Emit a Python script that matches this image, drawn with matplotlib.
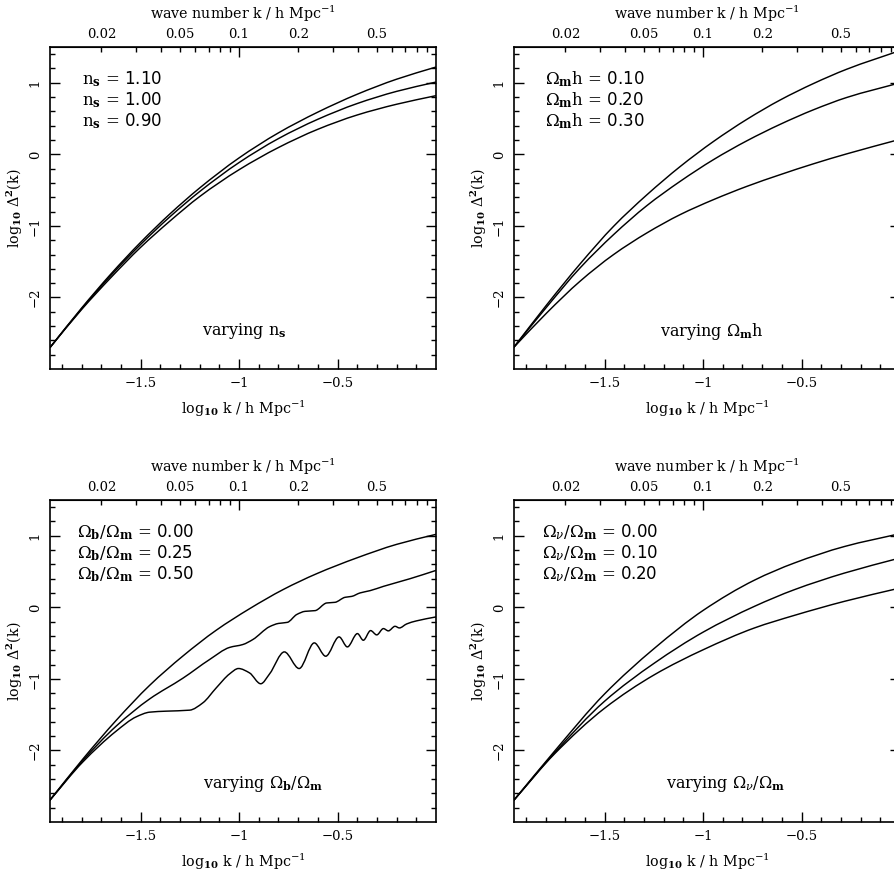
import numpy as np
import matplotlib
matplotlib.use("Agg")
import matplotlib.pyplot as plt
from matplotlib.path import Path
from matplotlib.patches import PathPatch

plt.rcParams['font.family'] = ['DejaVu Serif']
plt.rcParams['mathtext.fontset'] = 'dejavuserif'

# ---- values (x = log10 k, y = log10 Delta^2) ----

# varying n_s
ns_k = [-1.96, -1.80, -1.65, -1.50, -1.35, -1.20, -1.00, -0.80, -0.60, -0.40, -0.20, 0.00]
ns_labels = ['1.10', '1.00', '0.90']
ns_110 = [-2.70, -2.15, -1.67, -1.23, -0.83, -0.47, -0.05, 0.30, 0.59, 0.84, 1.05, 1.22]
ns_100 = [-2.70, -2.16, -1.69, -1.26, -0.87, -0.52, -0.115, 0.22, 0.49, 0.71, 0.88, 1.01]
ns_090 = [-2.70, -2.17, -1.72, -1.30, -0.93, -0.59, -0.215, 0.095, 0.35, 0.55, 0.70, 0.82]

# varying Omega_m h
omh_k = [-1.962, -1.793, -1.624, -1.454, -1.285, -1.116, -0.947, -0.777, -0.608, -0.439, -0.270, 0.00]
omh_labels = ['0.10', '0.20', '0.30']
omh_010 = [-2.70, -2.10, -1.53, -1.005, -0.565, -0.17, 0.18, 0.49, 0.76, 0.99, 1.19, 1.45]
omh_020 = [-2.70, -2.13, -1.586, -1.121, -0.716, -0.377, -0.074, 0.19, 0.42, 0.623, 0.795, 1.00]
omh_030 = [-2.70, -2.214, -1.772, -1.40, -1.098, -0.842, -0.633, -0.447, -0.284, -0.132, 0.007, 0.21]

# varying Omega_b / Omega_m
ob_labels = ['0.00', '0.25', '0.50']
ob_000_k = [-1.962, -1.793, -1.624, -1.454, -1.285, -1.116, -0.947, -0.775, -0.606, -0.403, -0.20, 0.00]
ob_000 = [-2.70, -2.12, -1.58, -1.09, -0.68, -0.32, -0.02, 0.25, 0.47, 0.69, 0.88, 1.02]
ob_025_k = [-1.962, -1.793, -1.624, -1.454, -1.285, -1.150, -1.048, -0.981, -0.930, -0.845,
            -0.800, -0.755, -0.707, -0.665, -0.614, -0.555, -0.513, -0.462, -0.428, -0.386,
            -0.335, -0.267, -0.132, 0.00]
ob_025 = [-2.70, -2.14, -1.66, -1.28, -0.99, -0.73, -0.56, -0.52, -0.45, -0.27,
          -0.225, -0.21, -0.10, -0.056, -0.046, 0.061, 0.070, 0.140, 0.153, 0.201,
          0.233, 0.293, 0.400, 0.516]
ob_050_k = [-1.962, -1.793, -1.624, -1.522, -1.454, -1.370, -1.251, -1.184, -1.116, -1.048,
            -1.003, -0.947, -0.890, -0.845, -0.770, -0.695, -0.618, -0.560, -0.492, -0.450,
            -0.399, -0.369, -0.332, -0.301, -0.267, -0.242, -0.208, -0.186, -0.149, -0.10, 0.00]
ob_050 = [-2.70, -2.16, -1.73, -1.53, -1.465, -1.451, -1.437, -1.335, -1.126, -0.93,
          -0.855, -0.916, -1.068, -0.93, -0.623, -0.855, -0.497, -0.683, -0.413, -0.553,
          -0.367, -0.460, -0.325, -0.385, -0.297, -0.329, -0.265, -0.288, -0.232, -0.19, -0.134]

# varying Omega_nu / Omega_m
onu_k = [-1.962, -1.754, -1.50, -1.246, -0.998, -0.739, -0.536, -0.282, 0.00]
onu_labels = ['0.00', '0.10', '0.20']
onu_000 = [-2.70, -2.01, -1.21, -0.57, -0.04, 0.38, 0.62, 0.85, 1.03]
onu_010 = [-2.70, -2.033, -1.312, -0.777, -0.344, 0.014, 0.247, 0.479, 0.69]
onu_020 = [-2.70, -2.047, -1.41, -0.940, -0.591, -0.288, -0.112, 0.084, 0.27]

# upper axis: wave number k
top_major = [0.1]
top_minor = [0.02, 0.03, 0.04, 0.05, 0.06, 0.07, 0.08, 0.09, 0.2, 0.3, 0.4, 0.5, 0.6, 0.7, 0.8, 0.9]
top_labels = {0.02: '0.02', 0.05: '0.05', 0.2: '0.2', 0.5: '0.5'}

W, H = 894, 871
fig = plt.figure(figsize=(W / 100, H / 100), dpi=100)


def smooth_line(ax, xs, ys):
    # monotone cubic through the read points, drawn as a bezier path in data coords
    x = np.asarray(xs, float)
    y = np.asarray(ys, float)
    h = np.diff(x)
    d = np.diff(y) / h
    m = np.zeros_like(x)
    m[0], m[-1] = d[0], d[-1]
    for i in range(1, len(x) - 1):
        if d[i - 1] * d[i] <= 0:
            m[i] = 0.0
        else:
            w1 = 2 * h[i] + h[i - 1]
            w2 = h[i] + 2 * h[i - 1]
            m[i] = (w1 + w2) / (w1 / d[i - 1] + w2 / d[i])
    verts = [(x[0], y[0])]
    codes = [Path.MOVETO]
    for i in range(len(x) - 1):
        verts += [(x[i] + h[i] / 3, y[i] + m[i] * h[i] / 3),
                  (x[i + 1] - h[i] / 3, y[i + 1] - m[i + 1] * h[i] / 3),
                  (x[i + 1], y[i + 1])]
        codes += [Path.CURVE4] * 3
    ax.add_patch(PathPatch(Path(verts, codes), fill=False, lw=1.05, ec='k'))


def panel(left_px, top_px, curves, legend, legend_x, note, note_x):
    ax = fig.add_axes([left_px / W, 1 - (top_px + 322) / H, 386 / W, 322 / H])
    for xs, ys in curves:
        smooth_line(ax, xs, ys)
    ax.set_xlim(-1.96, 0)
    ax.set_ylim(-3, 1.5)
    ax.set_xticks([-1.5, -1, -0.5], ['\u22121.5', '\u22121', '\u22120.5'])
    ax.set_xticks(np.arange(-1.9, 0, 0.1), minor=True)
    ax.set_yticks([-2, -1, 0, 1], ['\u22122', '\u22121', '0', '1'])
    ax.set_yticks(np.arange(-2.8, 1.5, 0.2), minor=True)
    ax.tick_params(which='both', direction='in', right=True, top=False, width=1.0,
                   labelsize=9.5)
    ax.tick_params(which='major', length=7, pad=6)
    ax.tick_params(which='minor', length=3.5)
    ax.tick_params(axis='y', labelrotation=90, pad=6)
    for lab in ax.get_yticklabels():
        lab.set_va('center')
    for s in ax.spines.values():
        s.set_linewidth(1.2)
    ax.set_xlabel(r'log$_{\mathbf{10}}$ k / h Mpc$^{-1}$', fontsize=10.3)
    ax.xaxis.set_label_coords(0.5, -0.093)
    ax.set_ylabel(r'log$_{\mathbf{10}}$ $\Delta^{\mathbf{2}}$(k)', fontsize=10.3)
    ax.yaxis.set_label_coords(-0.064, 0.5)

    top = ax.secondary_xaxis('top')
    top.set_xticks(np.log10(top_major), ['0.1'])
    top.set_xticks(np.log10(top_minor), [top_labels.get(v, '') for v in top_minor], minor=True)
    top.tick_params(which='both', direction='in', labelsize=9.5, width=1.0)
    top.tick_params(which='major', length=7, pad=4)
    top.tick_params(which='minor', length=3.5, pad=4)
    top.set_xlabel(r'wave number k / h Mpc$^{-1}$', fontsize=10.3, labelpad=6.5)

    for i, txt in enumerate(legend):
        ax.text(legend_x, 0.90 - i * 0.065, txt, transform=ax.transAxes, fontsize=12,
                va='center', ha='left')
    ax.text(note_x, 0.118, note, transform=ax.transAxes, fontsize=11.5, va='center',
            ha='center')
    return ax


panel(50, 47, [(ns_k, ns_110), (ns_k, ns_100), (ns_k, ns_090)],
      [r'$\mathrm{n}_{\mathbf{s}}$ = $\mathsf{' + v + '}$' for v in ns_labels], 0.083,
      r'varying $\mathrm{n}_{\mathbf{s}}$', 0.503)
panel(514, 47, [(omh_k, omh_010), (omh_k, omh_020), (omh_k, omh_030)],
      [r'$\Omega_{\mathbf{m}}$h = $\mathsf{' + v + '}$' for v in omh_labels], 0.08,
      r'varying $\Omega_{\mathbf{m}}$h', 0.512)
panel(50, 500, [(ob_000_k, ob_000), (ob_025_k, ob_025), (ob_050_k, ob_050)],
      [r'$\Omega_{\mathbf{b}}/\Omega_{\mathbf{m}}$ = $\mathsf{' + v + '}$' for v in ob_labels], 0.069,
      r'varying $\Omega_{\mathbf{b}}/\Omega_{\mathbf{m}}$', 0.553)
panel(514, 500, [(onu_k, onu_000), (onu_k, onu_010), (onu_k, onu_020)],
      [r'$\Omega_{\nu}/\Omega_{\mathbf{m}}$ = $\mathsf{' + v + '}$' for v in onu_labels], 0.072,
      r'varying $\Omega_{\nu}/\Omega_{\mathbf{m}}$', 0.547)

fig.savefig('out.png', dpi=100)
